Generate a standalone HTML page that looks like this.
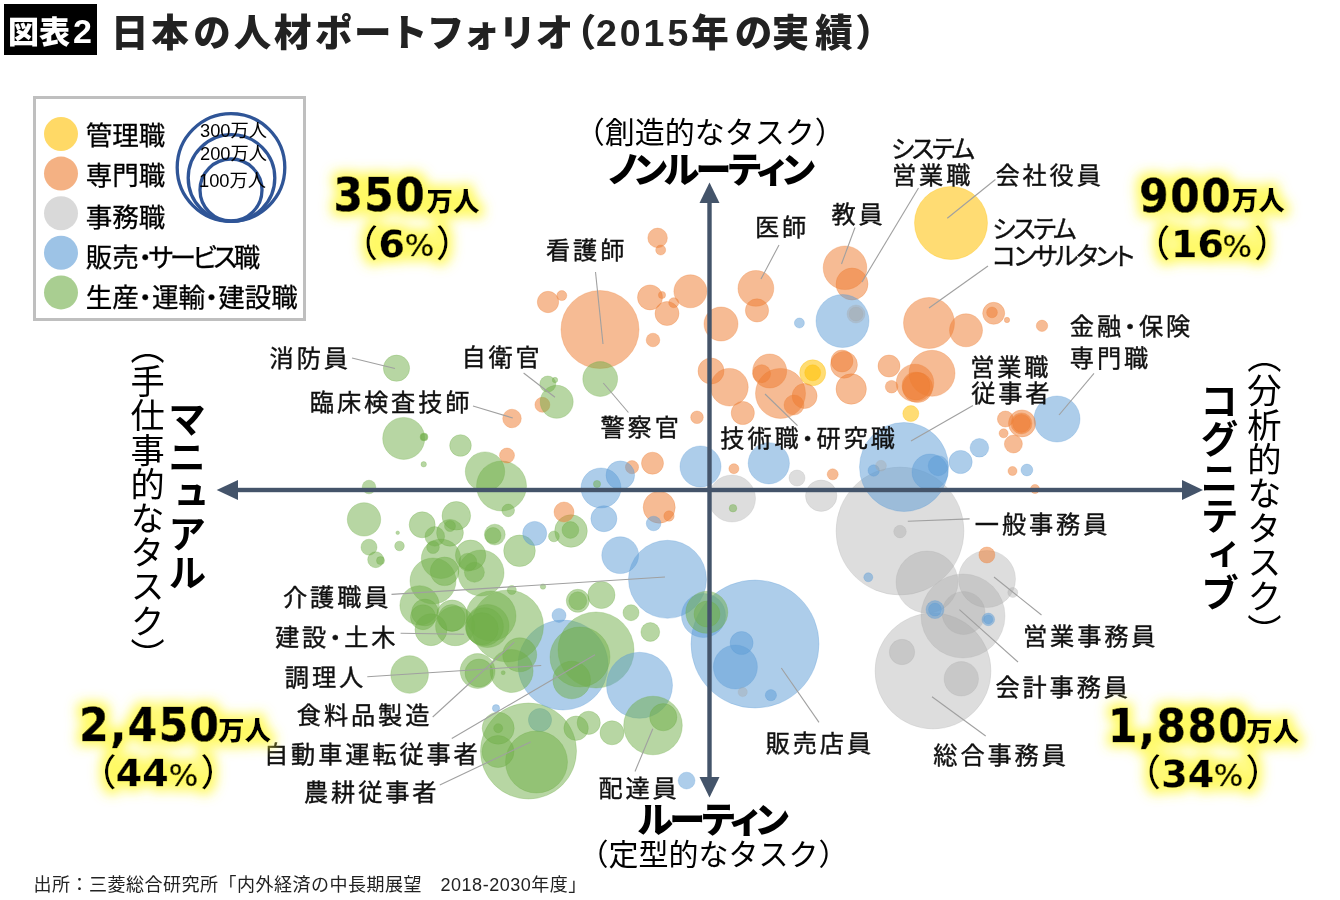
<!DOCTYPE html>
<html lang="ja"><head><meta charset="utf-8"><title>日本の人材ポートフォリオ（2015年の実績）</title>
<style>
html,body{margin:0;padding:0;background:#fff;}
body{width:1340px;height:900px;position:relative;overflow:hidden;font-family:'Liberation Sans','Noto Sans CJK JP',sans-serif;color:#000;}
.t{position:absolute;line-height:1;white-space:nowrap;}
circle.o,circle.b,circle.g,circle.y,circle.n{stroke-opacity:0.6;stroke-width:0.9;}
circle.o{fill:rgba(237,125,49,0.52);stroke:rgba(237,125,49,0.52);}
circle.b{fill:rgba(91,155,213,0.5);stroke:rgba(91,155,213,0.5);}
circle.g{fill:rgba(112,173,71,0.5);stroke:rgba(112,173,71,0.5);}
circle.y{fill:rgba(255,192,0,0.55);stroke:rgba(255,192,0,0.55);}
circle.n{fill:rgba(165,165,165,0.38);stroke:rgba(165,165,165,0.38);}

#glow{position:absolute;left:0;top:0;width:1340px;height:900px;filter:url(#glow);}
</style></head><body>
<svg width="0" height="0" style="position:absolute"><defs>
<filter id="glow" x="0" y="0" width="1340" height="900" filterUnits="userSpaceOnUse">
<feMorphology in="SourceAlpha" operator="dilate" radius="5" result="d"/>
<feGaussianBlur in="d" stdDeviation="6" result="bl"/>
<feFlood flood-color="#fff83a" flood-opacity="0.78"/>
<feComposite in2="bl" operator="in" result="g"/>
<feMerge><feMergeNode in="g"/><feMergeNode in="SourceGraphic"/></feMerge>
</filter></defs></svg>
<svg width="1340" height="900" viewBox="0 0 1340 900" style="position:absolute;left:0;top:0"><rect x="34.5" y="97.5" width="270" height="222" fill="#fff" stroke="#bfbfbf" stroke-width="3"/><circle cx="61" cy="134.0" r="17" fill="rgba(255,192,0,0.6)"/><circle cx="61" cy="173.6" r="17" fill="rgba(237,125,49,0.6)"/><circle cx="61" cy="213.2" r="17" fill="rgba(191,191,191,0.6)"/><circle cx="61" cy="252.8" r="17" fill="rgba(91,155,213,0.6)"/><circle cx="61" cy="292.4" r="17" fill="rgba(112,173,71,0.6)"/><g fill="none" stroke="#2f5597" stroke-width="3.3"><circle cx="231" cy="167.5" r="53.8"/><circle cx="231.5" cy="178" r="43.3"/><circle cx="231" cy="190" r="31"/></g><circle class="o" cx="542.4" cy="404.8" r="7.5"/><circle class="o" cx="632" cy="467.2" r="6.6"/><circle class="o" cx="852" cy="284" r="16"/><circle class="b" cx="540" cy="720" r="11.6"/><circle class="n" cx="900" cy="531" r="64"/><circle class="b" cx="755" cy="644" r="64"/><circle class="n" cx="933" cy="671" r="58"/><circle class="g" cx="528.5" cy="751" r="48"/><circle class="b" cx="563" cy="665" r="45"/><circle class="b" cx="904" cy="467" r="44.5"/><circle class="n" cx="963" cy="616" r="42"/><circle class="o" cx="600" cy="329.5" r="39"/><circle class="b" cx="667.5" cy="579.3" r="39"/><circle class="g" cx="596" cy="650" r="38"/><circle class="y" cx="951" cy="223" r="36.5"/><circle class="g" cx="507.5" cy="626" r="36"/><circle class="b" cx="639.5" cy="685.3" r="33"/><circle class="n" cx="927" cy="582" r="31"/><circle class="g" cx="536.5" cy="762" r="31"/><circle class="g" cx="580" cy="657" r="30"/><circle class="g" cx="653" cy="725.5" r="29.3"/><circle class="n" cx="987" cy="579" r="28.5"/><circle class="b" cx="842.5" cy="321" r="26.5"/><circle class="o" cx="929" cy="323" r="25.5"/><circle class="o" cx="780.5" cy="393.4" r="25"/><circle class="g" cx="501.5" cy="486" r="25"/><circle class="g" cx="491" cy="616" r="25"/><circle class="n" cx="732" cy="498.5" r="23.5"/><circle class="o" cx="932" cy="373.3" r="23"/><circle class="b" cx="1057" cy="419" r="23"/><circle class="g" cx="481" cy="573" r="23"/><circle class="g" cx="433" cy="581" r="23"/><circle class="b" cx="703.5" cy="615.5" r="22"/><circle class="b" cx="735.4" cy="667" r="22"/><circle class="o" cx="845" cy="267.8" r="21.8"/><circle class="n" cx="963.6" cy="613" r="21.5"/><circle class="g" cx="511.6" cy="671" r="21.5"/><circle class="g" cx="487.5" cy="626" r="21.5"/><circle class="g" cx="403.7" cy="438.4" r="21"/><circle class="g" cx="706.8" cy="612.3" r="21"/><circle class="b" cx="768.8" cy="463.3" r="20.6"/><circle class="b" cx="700.5" cy="466.5" r="20.5"/><circle class="b" cx="601" cy="488" r="20"/><circle class="g" cx="485" cy="471.6" r="19.7"/><circle class="g" cx="441" cy="558.8" r="19.7"/><circle class="g" cx="419.6" cy="605.4" r="19.7"/><circle class="g" cx="455.2" cy="626" r="19.7"/><circle class="g" cx="484.4" cy="626.7" r="19"/><circle class="o" cx="729.4" cy="387.2" r="18.8"/><circle class="o" cx="915" cy="383" r="18.8"/><circle class="g" cx="409.6" cy="674.5" r="18.8"/><circle class="g" cx="571.7" cy="680" r="18.8"/><circle class="b" cx="620.2" cy="555.2" r="18.4"/><circle class="b" cx="930" cy="472" r="18"/><circle class="o" cx="755.9" cy="288.4" r="17.9"/><circle class="g" cx="600.2" cy="379" r="17.4"/><circle class="g" cx="477.6" cy="671" r="17.4"/><circle class="n" cx="961.3" cy="678.8" r="17.2"/><circle class="o" cx="721" cy="324" r="17"/><circle class="o" cx="769.7" cy="371" r="17"/><circle class="g" cx="519.7" cy="654.8" r="17"/><circle class="g" cx="364" cy="519.4" r="16.7"/><circle class="o" cx="690.4" cy="291.3" r="16.5"/><circle class="o" cx="966" cy="330.3" r="16.5"/><circle class="g" cx="556.7" cy="401.8" r="16.5"/><circle class="g" cx="571" cy="531" r="16.3"/><circle class="o" cx="659.2" cy="507.2" r="16"/><circle class="g" cx="482.2" cy="628.7" r="16"/><circle class="g" cx="498.2" cy="728.2" r="16"/><circle class="g" cx="498" cy="751.5" r="16"/><circle class="g" cx="431" cy="629.7" r="16"/><circle class="g" cx="519.5" cy="550.8" r="15.8"/><circle class="n" cx="821.2" cy="495.7" r="15.7"/><circle class="g" cx="452.2" cy="615.6" r="15.6"/><circle class="o" cx="851.2" cy="389" r="15.2"/><circle class="g" cx="470.6" cy="555.2" r="15.2"/><circle class="o" cx="917.6" cy="387.6" r="15"/><circle class="b" cx="620.3" cy="475.2" r="14.3"/><circle class="g" cx="456.3" cy="515.8" r="14.3"/><circle class="g" cx="444.6" cy="571.3" r="14.3"/><circle class="g" cx="479" cy="673" r="14"/><circle class="o" cx="916" cy="386" r="14"/><circle class="g" cx="601.4" cy="595" r="13.6"/><circle class="g" cx="663.3" cy="717.2" r="13.6"/><circle class="o" cx="1022" cy="423.4" r="13.5"/><circle class="o" cx="844" cy="364.8" r="13.4"/><circle class="g" cx="450" cy="532.8" r="13.4"/><circle class="g" cx="425" cy="612.5" r="13.4"/><circle class="g" cx="451.8" cy="618" r="13.4"/><circle class="g" cx="396.5" cy="368.2" r="13.1"/><circle class="o" cx="711" cy="371" r="13"/><circle class="y" cx="812.7" cy="372.8" r="13"/><circle class="b" cx="603.9" cy="518.7" r="13"/><circle class="g" cx="422.2" cy="524.8" r="13"/><circle class="g" cx="707" cy="614" r="13"/><circle class="n" cx="902" cy="652" r="12.7"/><circle class="o" cx="650" cy="297.4" r="12.5"/><circle class="o" cx="804.6" cy="396" r="12.5"/><circle class="g" cx="423" cy="617.2" r="12.5"/><circle class="g" cx="576.1" cy="728.2" r="12.2"/><circle class="o" cx="667" cy="313.5" r="12"/><circle class="b" cx="534.7" cy="533.4" r="12"/><circle class="g" cx="612" cy="732.8" r="12"/><circle class="o" cx="757" cy="310.4" r="11.6"/><circle class="o" cx="742.8" cy="413" r="11.6"/><circle class="b" cx="960.6" cy="462" r="11.6"/><circle class="g" cx="588.7" cy="722.8" r="11.6"/><circle class="b" cx="741.6" cy="643" r="11.5"/><circle class="g" cx="577.8" cy="600.8" r="11.5"/><circle class="o" cx="652.5" cy="463.2" r="11"/><circle class="o" cx="993.7" cy="313.3" r="11"/><circle class="o" cx="889" cy="366" r="11"/><circle class="o" cx="842" cy="361" r="11"/><circle class="g" cx="460.5" cy="445.5" r="10.8"/><circle class="o" cx="548" cy="302" r="10.7"/><circle class="o" cx="1021.5" cy="423.4" r="10.5"/><circle class="g" cx="494.8" cy="534.6" r="10.4"/><circle class="o" cx="564" cy="512" r="10"/><circle class="o" cx="794" cy="405" r="10"/><circle class="b" cx="938.2" cy="465.7" r="10"/><circle class="g" cx="474.4" cy="572.2" r="10"/><circle class="o" cx="657.6" cy="237.9" r="9.8"/><circle class="g" cx="434.8" cy="536.4" r="9.8"/><circle class="g" cx="650.3" cy="632" r="9.4"/><circle class="o" cx="512" cy="418.5" r="9.3"/><circle class="b" cx="979.4" cy="447.8" r="9.3"/><circle class="o" cx="761.6" cy="373.7" r="9"/><circle class="o" cx="1021.5" cy="423.4" r="9"/><circle class="o" cx="1013.4" cy="444" r="9"/><circle class="n" cx="856" cy="314" r="9"/><circle class="b" cx="935" cy="609.6" r="9"/><circle class="g" cx="577.8" cy="600.8" r="9"/><circle class="g" cx="467.8" cy="562.2" r="9"/><circle class="b" cx="686.6" cy="780.6" r="8.4"/><circle class="g" cx="570.4" cy="530" r="8.4"/><circle class="o" cx="1005.4" cy="419" r="8"/><circle class="o" cx="986.9" cy="555" r="8"/><circle class="y" cx="812.7" cy="372.8" r="8"/><circle class="y" cx="910.8" cy="413.6" r="8"/><circle class="n" cx="797" cy="478" r="8"/><circle class="g" cx="547.8" cy="384" r="8"/><circle class="g" cx="369" cy="547.2" r="8"/><circle class="g" cx="375.7" cy="559.7" r="8"/><circle class="g" cx="493" cy="535.5" r="8"/><circle class="g" cx="631" cy="612.7" r="8"/><circle class="o" cx="507" cy="455.5" r="7.5"/><circle class="b" cx="653.6" cy="523.5" r="7.3"/><circle class="n" cx="856" cy="314" r="7"/><circle class="b" cx="559" cy="615.4" r="7"/><circle class="o" cx="653" cy="340" r="6.8"/><circle class="g" cx="369" cy="487" r="6.8"/><circle class="b" cx="935" cy="609.6" r="6.5"/><circle class="o" cx="697" cy="417.3" r="6.3"/><circle class="o" cx="891.6" cy="386.7" r="6.3"/><circle class="n" cx="900" cy="531.6" r="6.3"/><circle class="b" cx="988.3" cy="619.4" r="6.3"/><circle class="g" cx="508.2" cy="510.4" r="6.3"/><circle class="g" cx="433" cy="547.2" r="6.3"/><circle class="b" cx="1026.9" cy="470" r="5.9"/><circle class="o" cx="1042" cy="325.8" r="5.7"/><circle class="b" cx="873.7" cy="470.5" r="5.7"/><circle class="b" cx="770.9" cy="695.2" r="5.6"/><circle class="o" cx="832.7" cy="474.3" r="5.5"/><circle class="g" cx="450" cy="526" r="5.5"/><circle class="o" cx="992" cy="312.4" r="5.4"/><circle class="n" cx="881" cy="465.7" r="5.4"/><circle class="g" cx="553.9" cy="536.4" r="5.4"/><circle class="o" cx="669" cy="516" r="5.2"/><circle class="o" cx="660.7" cy="250" r="5"/><circle class="o" cx="561.8" cy="295.6" r="5"/><circle class="o" cx="673.7" cy="302.7" r="5"/><circle class="o" cx="733.9" cy="468.7" r="5"/><circle class="n" cx="1012.8" cy="592.5" r="5"/><circle class="b" cx="799.4" cy="323" r="5"/><circle class="g" cx="399.5" cy="546" r="4.8"/><circle class="n" cx="742.7" cy="692" r="4.6"/><circle class="o" cx="1003.6" cy="433.3" r="4.5"/><circle class="o" cx="1012.5" cy="471" r="4.5"/><circle class="o" cx="1035" cy="489" r="4.5"/><circle class="b" cx="868.3" cy="577.3" r="4.5"/><circle class="b" cx="988.3" cy="619.4" r="4.5"/><circle class="g" cx="511.8" cy="590" r="4.5"/><circle class="g" cx="498.2" cy="728.2" r="4.5"/><circle class="g" cx="424" cy="437" r="4"/><circle class="g" cx="380.5" cy="560.6" r="4"/><circle class="g" cx="733" cy="508.2" r="3.8"/><circle class="o" cx="662" cy="295" r="3.6"/><circle class="b" cx="496" cy="708.2" r="3.6"/><circle class="g" cx="597" cy="484" r="3.6"/><circle class="g" cx="424" cy="437" r="3.2"/><circle class="o" cx="1007" cy="320" r="2.7"/><circle class="g" cx="555" cy="380" r="2.7"/><circle class="g" cx="423.7" cy="464.3" r="2.7"/><circle class="g" cx="543" cy="586.6" r="2.7"/><circle class="g" cx="503.2" cy="672.7" r="2"/><circle class="g" cx="397.7" cy="532.8" r="1.8"/><g stroke="#a0a0a0" stroke-width="1.1"><line x1="595.5" y1="272" x2="603" y2="344"/><line x1="779" y1="245" x2="761" y2="279"/><line x1="855" y1="227.5" x2="841.5" y2="264"/><line x1="918.5" y1="188" x2="862" y2="282"/><line x1="995.4" y1="179.5" x2="947.3" y2="218.2"/><line x1="988" y1="266" x2="929" y2="308"/><line x1="1094" y1="373.3" x2="1059" y2="415"/><line x1="973" y1="405.5" x2="911" y2="441"/><line x1="797.5" y1="425.7" x2="765" y2="394"/><line x1="523.6" y1="373" x2="555" y2="397.3"/><line x1="628.4" y1="412.5" x2="603.3" y2="383"/><line x1="352" y1="358" x2="395" y2="368.5"/><line x1="473" y1="406" x2="512.8" y2="418"/><line x1="969.6" y1="518.9" x2="907.8" y2="521.2"/><line x1="1041.5" y1="615" x2="994" y2="577"/><line x1="1018" y1="662" x2="959.4" y2="609.6"/><line x1="985.7" y1="736" x2="932" y2="696.7"/><line x1="819" y1="722.4" x2="781.3" y2="668"/><line x1="635" y1="771.5" x2="652.8" y2="728.7"/><line x1="391.5" y1="594.4" x2="665" y2="577"/><line x1="400.6" y1="633.3" x2="464.2" y2="634.2"/><line x1="367.3" y1="676.8" x2="541.2" y2="665.5"/><line x1="432.7" y1="717" x2="514.3" y2="642.2"/><line x1="451.8" y1="738.5" x2="595" y2="654.8"/><line x1="439.8" y1="785" x2="530.6" y2="742"/></g><g fill="#44546a" stroke="none"><rect x="236" y="487.8" width="948" height="4.4"/><polygon points="216.7,490 238,480 238,500"/><polygon points="1203,490 1182,480 1182,500"/><rect x="707.3" y="200" width="4.4" height="580"/><polygon points="709.5,182.5 699.5,203 719.5,203"/><polygon points="709.5,797.5 699.5,777 719.5,777"/></g></svg>
<div style="position:absolute;left:4px;top:4px;width:93px;height:51px;background:#000;"></div>
<div class="t" style="left:8.0px;top:12.0px;font:900 31px 'Liberation Sans','Noto Sans CJK JP',sans-serif;color:#fff;letter-spacing:0px;line-height:1">図表<span style="font:bold 34px 'Liberation Sans',sans-serif;margin-left:3px">2</span></div><div class="t" style="left:110.9px;top:15.4px;font:900 37.5px 'Liberation Sans','Noto Sans CJK JP',sans-serif;color:#222;letter-spacing:1.4px;line-height:1"><span style="letter-spacing:2.9px">日</span><span style="letter-spacing:4.4px">本</span><span style="letter-spacing:3.0px">の</span><span style="letter-spacing:2.7px">人</span><span style="letter-spacing:3.7px">材</span><span style="letter-spacing:1.4px">ポ</span><span style="letter-spacing:-1.5px">ー</span><span style="letter-spacing:-0.9px">ト</span><span style="letter-spacing:-1.6px">フ</span><span style="letter-spacing:-1.6px">ォ</span><span style="letter-spacing:-0.1px">リ</span><span style="letter-spacing:-1.6px">オ</span><span style="font-feature-settings:'palt';margin-left:4px">（</span><span style="letter-spacing:3px">2015</span><span style="letter-spacing:6px">年</span><span style="letter-spacing:-0.6px">の</span><span style="letter-spacing:6px">実</span><span style="letter-spacing:4.2px">績</span><span style="font-feature-settings:'palt'">）</span></div><div class="t" style="left:85.7px;top:122.7px;font:26.5px 'Liberation Sans','Noto Sans CJK JP',sans-serif;font-feature-settings:'palt';-webkit-text-stroke:0.3px #000;line-height:1">管理職</div><div class="t" style="left:85.7px;top:163.3px;font:26.5px 'Liberation Sans','Noto Sans CJK JP',sans-serif;font-feature-settings:'palt';-webkit-text-stroke:0.3px #000;line-height:1">専門職</div><div class="t" style="left:85.7px;top:204.6px;font:26.5px 'Liberation Sans','Noto Sans CJK JP',sans-serif;font-feature-settings:'palt';-webkit-text-stroke:0.3px #000;line-height:1">事務職</div><div class="t" style="left:85.7px;top:244.9px;font:26.5px 'Liberation Sans','Noto Sans CJK JP',sans-serif;font-feature-settings:'palt';-webkit-text-stroke:0.3px #000;line-height:1">販売<span style="letter-spacing:-3.5px">・サービス</span>職</div><div class="t" style="left:85.7px;top:285.0px;font:26.5px 'Liberation Sans','Noto Sans CJK JP',sans-serif;font-feature-settings:'palt';-webkit-text-stroke:0.3px #000;line-height:1">生産・運輸・建設職</div><div class="t" style="left:200.0px;top:122.4px;font:18.3px 'Liberation Sans','Noto Sans CJK JP',sans-serif;line-height:1">300万人</div><div class="t" style="left:200.0px;top:144.8px;font:18.3px 'Liberation Sans','Noto Sans CJK JP',sans-serif;line-height:1">200万人</div><div class="t" style="left:199.0px;top:172.2px;font:18.3px 'Liberation Sans','Noto Sans CJK JP',sans-serif;line-height:1">100万人</div><div class="t" style="left:574.7px;top:118.3px;font:30px 'Liberation Sans','Noto Sans CJK JP',sans-serif;line-height:1">（創造的なタスク）</div><div class="t" style="left:608.0px;top:152.5px;font:900 36px 'Liberation Sans','Noto Sans CJK JP',sans-serif;font-feature-settings:'palt';letter-spacing:-3px;line-height:1">ノンルーティン</div><div class="t" style="left:637.8px;top:802.5px;font:900 36px 'Liberation Sans','Noto Sans CJK JP',sans-serif;font-feature-settings:'palt';letter-spacing:-3px;line-height:1">ルーティン</div><div class="t" style="left:578.4px;top:840.3px;font:30px 'Liberation Sans','Noto Sans CJK JP',sans-serif;line-height:1">（定型的なタスク）</div><div class="t" style="left:127.3px;top:330.2px;font:34.2px 'Liberation Sans','Noto Sans CJK JP',sans-serif;writing-mode:vertical-rl;line-height:1">（手仕事的なタスク）</div><div class="t" style="left:163.4px;top:398.8px;font:bold 38.5px 'Liberation Sans','Noto Sans CJK JP',sans-serif;writing-mode:vertical-rl;line-height:1">マニュアル</div><div class="t" style="left:1196.0px;top:381.0px;font:bold 38.5px 'Liberation Sans','Noto Sans CJK JP',sans-serif;writing-mode:vertical-rl;line-height:1">コグニティブ</div><div class="t" style="left:1244.0px;top:339.0px;font:34.3px 'Liberation Sans','Noto Sans CJK JP',sans-serif;writing-mode:vertical-rl;line-height:1">（分析的なタスク）</div><div class="t" style="left:546.0px;top:239.0px;font:24.2px 'Liberation Sans','Noto Sans CJK JP',sans-serif;color:#111;font-feature-settings:'palt';letter-spacing:2.9px;-webkit-text-stroke:0.4px #111;line-height:1">看護師</div><div class="t" style="left:755.0px;top:216.0px;font:24.2px 'Liberation Sans','Noto Sans CJK JP',sans-serif;color:#111;font-feature-settings:'palt';letter-spacing:2.9px;-webkit-text-stroke:0.4px #111;line-height:1">医師</div><div class="t" style="left:831.5px;top:202.5px;font:24.2px 'Liberation Sans','Noto Sans CJK JP',sans-serif;color:#111;font-feature-settings:'palt';letter-spacing:2.9px;-webkit-text-stroke:0.4px #111;line-height:1">教員</div><div class="t" style="left:995.4px;top:163.8px;font:24.2px 'Liberation Sans','Noto Sans CJK JP',sans-serif;color:#111;font-feature-settings:'palt';letter-spacing:2.9px;-webkit-text-stroke:0.4px #111;line-height:1">会社役員</div><div class="t" style="left:461.4px;top:346.4px;font:24.2px 'Liberation Sans','Noto Sans CJK JP',sans-serif;color:#111;font-feature-settings:'palt';letter-spacing:2.9px;-webkit-text-stroke:0.4px #111;line-height:1">自衛官</div><div class="t" style="left:600.5px;top:416.2px;font:24.2px 'Liberation Sans','Noto Sans CJK JP',sans-serif;color:#111;font-feature-settings:'palt';letter-spacing:2.9px;-webkit-text-stroke:0.4px #111;line-height:1">警察官</div><div class="t" style="left:269.6px;top:347.0px;font:24.2px 'Liberation Sans','Noto Sans CJK JP',sans-serif;color:#111;font-feature-settings:'palt';letter-spacing:2.9px;-webkit-text-stroke:0.4px #111;line-height:1">消防員</div><div class="t" style="left:309.8px;top:391.0px;font:24.2px 'Liberation Sans','Noto Sans CJK JP',sans-serif;color:#111;font-feature-settings:'palt';letter-spacing:2.9px;-webkit-text-stroke:0.4px #111;line-height:1">臨床検査技師</div><div class="t" style="left:720.3px;top:426.7px;font:24.2px 'Liberation Sans','Noto Sans CJK JP',sans-serif;color:#111;font-feature-settings:'palt';letter-spacing:2.9px;-webkit-text-stroke:0.4px #111;line-height:1">技術職・研究職</div><div class="t" style="left:974.8px;top:513.0px;font:24.2px 'Liberation Sans','Noto Sans CJK JP',sans-serif;color:#111;font-feature-settings:'palt';letter-spacing:2.9px;-webkit-text-stroke:0.4px #111;line-height:1">一般事務員</div><div class="t" style="left:1023.0px;top:624.9px;font:24.2px 'Liberation Sans','Noto Sans CJK JP',sans-serif;color:#111;font-feature-settings:'palt';letter-spacing:2.9px;-webkit-text-stroke:0.4px #111;line-height:1">営業事務員</div><div class="t" style="left:995.4px;top:676.2px;font:24.2px 'Liberation Sans','Noto Sans CJK JP',sans-serif;color:#111;font-feature-settings:'palt';letter-spacing:2.9px;-webkit-text-stroke:0.4px #111;line-height:1">会計事務員</div><div class="t" style="left:933.3px;top:744.3px;font:24.2px 'Liberation Sans','Noto Sans CJK JP',sans-serif;color:#111;font-feature-settings:'palt';letter-spacing:2.9px;-webkit-text-stroke:0.4px #111;line-height:1">総合事務員</div><div class="t" style="left:765.7px;top:731.7px;font:24.2px 'Liberation Sans','Noto Sans CJK JP',sans-serif;color:#111;font-feature-settings:'palt';letter-spacing:2.9px;-webkit-text-stroke:0.4px #111;line-height:1">販売店員</div><div class="t" style="left:598.4px;top:776.8px;font:24.2px 'Liberation Sans','Noto Sans CJK JP',sans-serif;color:#111;font-feature-settings:'palt';letter-spacing:2.9px;-webkit-text-stroke:0.4px #111;line-height:1">配達員</div><div class="t" style="left:283.0px;top:586.0px;font:24.2px 'Liberation Sans','Noto Sans CJK JP',sans-serif;color:#111;font-feature-settings:'palt';letter-spacing:2.9px;-webkit-text-stroke:0.4px #111;line-height:1">介護職員</div><div class="t" style="left:275.0px;top:626.4px;font:24.2px 'Liberation Sans','Noto Sans CJK JP',sans-serif;color:#111;font-feature-settings:'palt';letter-spacing:2.9px;-webkit-text-stroke:0.4px #111;line-height:1">建設・土木</div><div class="t" style="left:284.8px;top:665.7px;font:24.2px 'Liberation Sans','Noto Sans CJK JP',sans-serif;color:#111;font-feature-settings:'palt';letter-spacing:2.9px;-webkit-text-stroke:0.4px #111;line-height:1">調理人</div><div class="t" style="left:296.8px;top:703.7px;font:24.2px 'Liberation Sans','Noto Sans CJK JP',sans-serif;color:#111;font-feature-settings:'palt';letter-spacing:2.9px;-webkit-text-stroke:0.4px #111;line-height:1">食料品製造</div><div class="t" style="left:264.0px;top:743.0px;font:24.2px 'Liberation Sans','Noto Sans CJK JP',sans-serif;color:#111;font-feature-settings:'palt';letter-spacing:2.9px;-webkit-text-stroke:0.4px #111;line-height:1">自動車運転従事者</div><div class="t" style="left:304.0px;top:781.3px;font:24.2px 'Liberation Sans','Noto Sans CJK JP',sans-serif;color:#111;font-feature-settings:'palt';letter-spacing:2.9px;-webkit-text-stroke:0.4px #111;line-height:1">農耕従事者</div><div class="t" style="left:892.0px;top:163.8px;font:24.2px 'Liberation Sans','Noto Sans CJK JP',sans-serif;color:#111;font-feature-settings:'palt';letter-spacing:2.9px;-webkit-text-stroke:0.4px #111;line-height:1">営業職</div><div class="t" style="left:971.2px;top:381.5px;font:24.2px 'Liberation Sans','Noto Sans CJK JP',sans-serif;color:#111;font-feature-settings:'palt';letter-spacing:2.9px;-webkit-text-stroke:0.4px #111;line-height:1">従事者</div><div class="t" style="left:970.2px;top:356.4px;font:24.2px 'Liberation Sans','Noto Sans CJK JP',sans-serif;color:#111;font-feature-settings:'palt';letter-spacing:2.9px;-webkit-text-stroke:0.4px #111;line-height:1">営業職</div><div class="t" style="left:1069.8px;top:315.0px;font:24.2px 'Liberation Sans','Noto Sans CJK JP',sans-serif;color:#111;font-feature-settings:'palt';letter-spacing:2.9px;-webkit-text-stroke:0.4px #111;line-height:1">金融・保険</div><div class="t" style="left:1069.8px;top:346.5px;font:24.2px 'Liberation Sans','Noto Sans CJK JP',sans-serif;color:#111;font-feature-settings:'palt';letter-spacing:2.9px;-webkit-text-stroke:0.4px #111;line-height:1">専門職</div><div class="t" style="left:891.0px;top:136.8px;font:25px 'Liberation Sans','Noto Sans CJK JP',sans-serif;color:#111;font-feature-settings:'palt';letter-spacing:-2.3px;-webkit-text-stroke:0.4px #111;line-height:1">システム</div><div class="t" style="left:992.4px;top:217.0px;font:25px 'Liberation Sans','Noto Sans CJK JP',sans-serif;color:#111;font-feature-settings:'palt';letter-spacing:-2.3px;-webkit-text-stroke:0.4px #111;line-height:1">システム</div><div class="t" style="left:992.4px;top:244.0px;font:25px 'Liberation Sans','Noto Sans CJK JP',sans-serif;color:#111;font-feature-settings:'palt';letter-spacing:-2.3px;-webkit-text-stroke:0.4px #111;line-height:1">コンサルタント</div><div class="t" style="left:33.6px;top:876.0px;font:18px 'Liberation Sans','Noto Sans CJK JP',sans-serif;color:#222;letter-spacing:0.5px;line-height:1">出所：三菱総合研究所「内外経済の中長期展望　2018-2030年度」</div>
<div id="glow"><div class="t" style="left:333.4px;top:171.1px;font:bold 47px 'DejaVu Sans Condensed','DejaVu Sans',sans-serif;letter-spacing:1.5px;color:#000;-webkit-text-stroke:0.7px #000;line-height:1">350</div><div class="t" style="left:426.5px;top:188.9px;font:900 26.5px 'Liberation Sans','Noto Sans CJK JP',sans-serif;color:#000;line-height:1">万人</div><div class="t" style="left:341.2px;top:226.1px;font:500 37px 'Liberation Sans','Noto Sans CJK JP',sans-serif;color:#000;line-height:1">（</div><div class="t" style="left:378.4px;top:225.2px;font:bold 38px 'DejaVu Sans',sans-serif;color:#000;-webkit-text-stroke:0.3px #000;line-height:1">6</div><div class="t" style="left:404.7px;top:230.4px;font:31px 'DejaVu Sans',sans-serif;color:#000;-webkit-text-stroke:0.6px #000;line-height:1">%</div><div class="t" style="left:435.8px;top:226.1px;font:500 37px 'Liberation Sans','Noto Sans CJK JP',sans-serif;color:#000;line-height:1">）</div><div class="t" style="left:1139.3px;top:171.6px;font:bold 47px 'DejaVu Sans Condensed','DejaVu Sans',sans-serif;letter-spacing:1.5px;color:#000;-webkit-text-stroke:0.7px #000;line-height:1">900</div><div class="t" style="left:1231.7px;top:187.9px;font:900 26.5px 'Liberation Sans','Noto Sans CJK JP',sans-serif;color:#000;line-height:1">万人</div><div class="t" style="left:1133.6px;top:226.3px;font:500 37px 'Liberation Sans','Noto Sans CJK JP',sans-serif;color:#000;line-height:1">（</div><div class="t" style="left:1171.1px;top:225.2px;font:bold 38px 'DejaVu Sans',sans-serif;color:#000;-webkit-text-stroke:0.3px #000;line-height:1">16</div><div class="t" style="left:1222.6px;top:230.6px;font:31px 'DejaVu Sans',sans-serif;color:#000;-webkit-text-stroke:0.6px #000;line-height:1">%</div><div class="t" style="left:1253.7px;top:226.3px;font:500 37px 'Liberation Sans','Noto Sans CJK JP',sans-serif;color:#000;line-height:1">）</div><div class="t" style="left:79.3px;top:701.2px;font:bold 47px 'DejaVu Sans Condensed','DejaVu Sans',sans-serif;letter-spacing:1.5px;color:#000;-webkit-text-stroke:0.7px #000;line-height:1">2,450</div><div class="t" style="left:218.1px;top:718.0px;font:900 26.5px 'Liberation Sans','Noto Sans CJK JP',sans-serif;color:#000;line-height:1">万人</div><div class="t" style="left:79.7px;top:755.2px;font:500 37px 'Liberation Sans','Noto Sans CJK JP',sans-serif;color:#000;line-height:1">（</div><div class="t" style="left:115.8px;top:753.6px;font:bold 38px 'DejaVu Sans',sans-serif;color:#000;-webkit-text-stroke:0.3px #000;line-height:1">44</div><div class="t" style="left:168.8px;top:759.9px;font:31px 'DejaVu Sans',sans-serif;color:#000;-webkit-text-stroke:0.6px #000;line-height:1">%</div><div class="t" style="left:200.3px;top:755.2px;font:500 37px 'Liberation Sans','Noto Sans CJK JP',sans-serif;color:#000;line-height:1">）</div><div class="t" style="left:1108.0px;top:702.2px;font:bold 47px 'DejaVu Sans Condensed','DejaVu Sans',sans-serif;letter-spacing:1.5px;color:#000;-webkit-text-stroke:0.7px #000;line-height:1">1,880</div><div class="t" style="left:1245.9px;top:718.8px;font:900 26.5px 'Liberation Sans','Noto Sans CJK JP',sans-serif;color:#000;line-height:1">万人</div><div class="t" style="left:1124.2px;top:755.2px;font:500 37px 'Liberation Sans','Noto Sans CJK JP',sans-serif;color:#000;line-height:1">（</div><div class="t" style="left:1161.3px;top:754.6px;font:bold 38px 'DejaVu Sans',sans-serif;color:#000;-webkit-text-stroke:0.3px #000;line-height:1">34</div><div class="t" style="left:1213.8px;top:759.9px;font:31px 'DejaVu Sans',sans-serif;color:#000;-webkit-text-stroke:0.6px #000;line-height:1">%</div><div class="t" style="left:1245.3px;top:755.2px;font:500 37px 'Liberation Sans','Noto Sans CJK JP',sans-serif;color:#000;line-height:1">）</div></div>
</body></html>
